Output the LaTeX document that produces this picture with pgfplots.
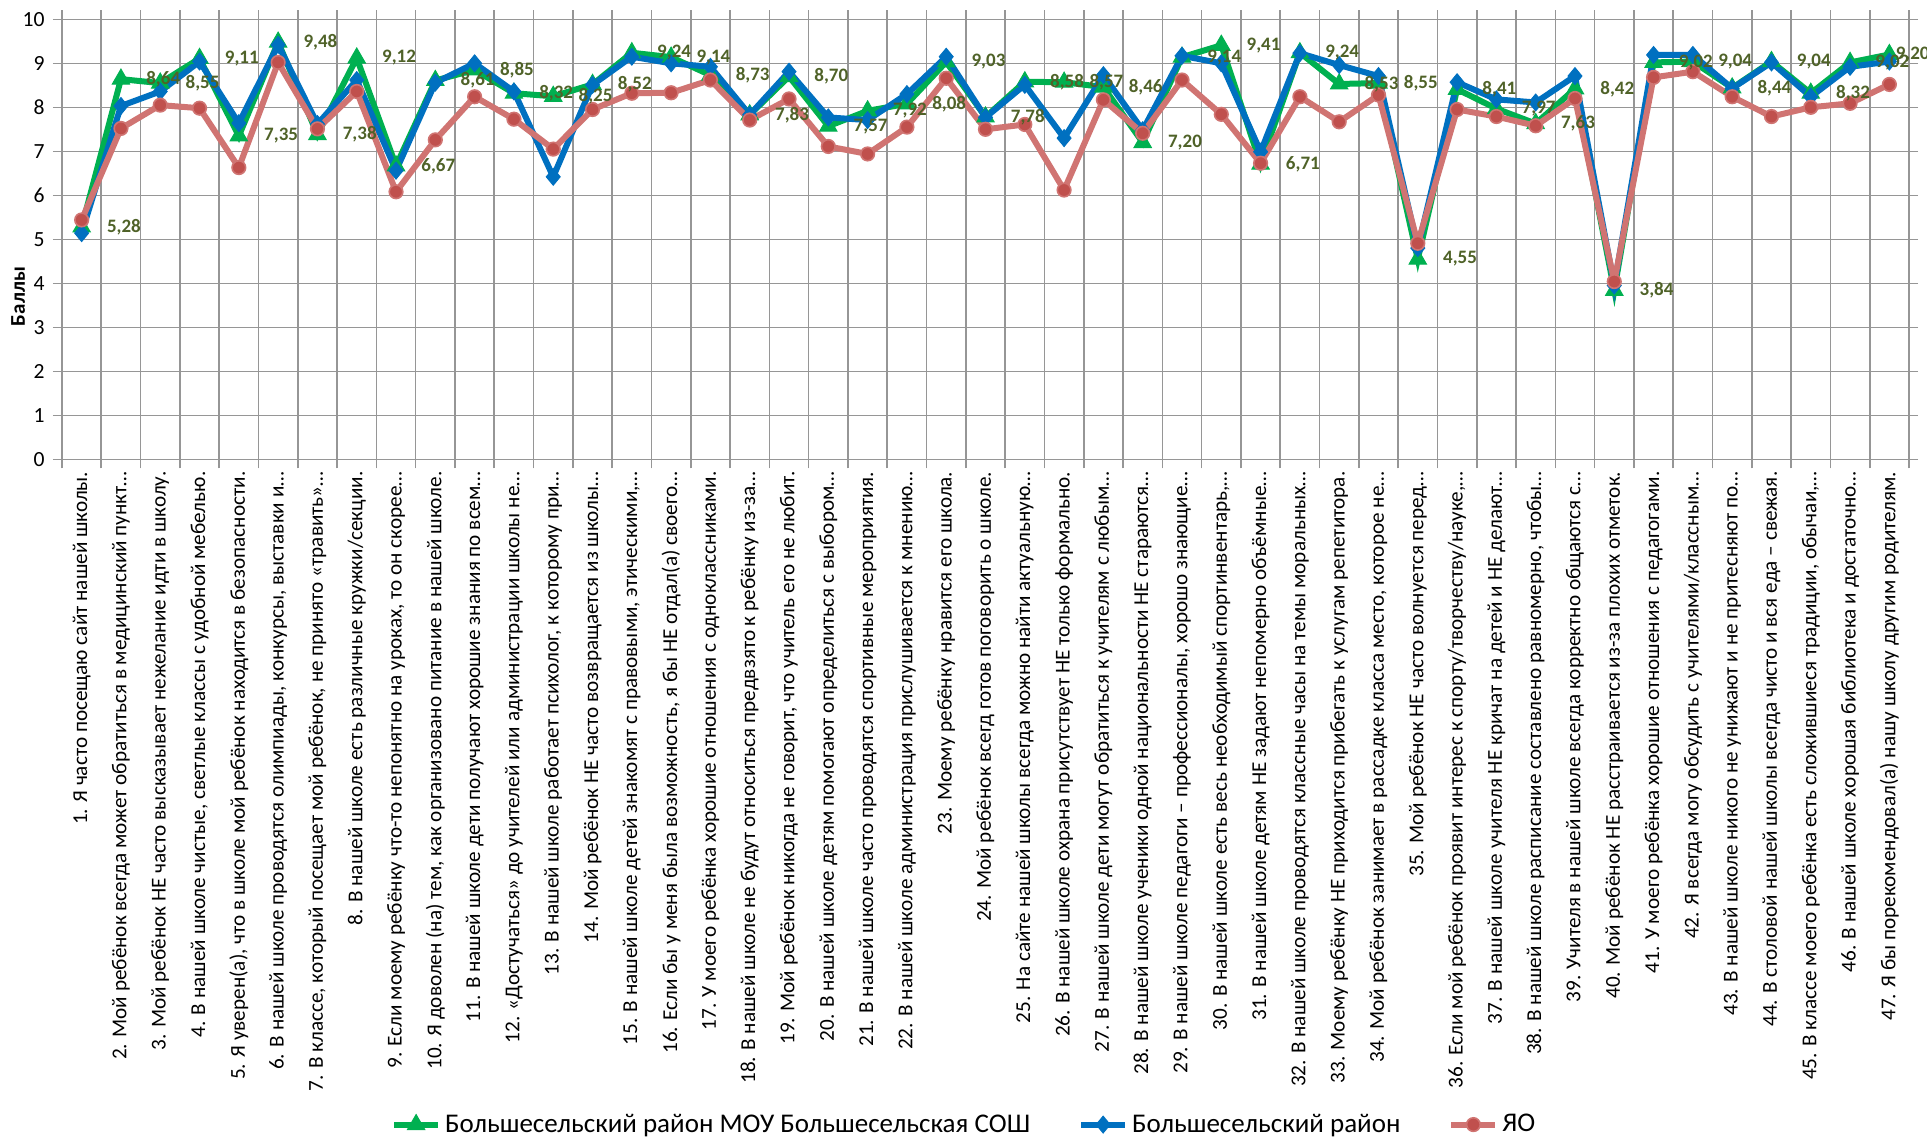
\documentclass[border=0pt]{standalone}
\usepackage{fontspec}
\setmainfont{Carlito}
\usepackage{pgfplots}
\pgfplotsset{compat=1.18}
\usepackage{pgfplotstable}
\definecolor{sgreen}{HTML}{00B050}
\definecolor{sblue}{HTML}{0070C0}
\definecolor{sredl}{HTML}{D07472}
\definecolor{sredm}{HTML}{C0504D}
\definecolor{labc}{HTML}{4F6228}
\definecolor{gridc}{HTML}{969696}

\pgfplotstableread{
x g b r lbl
1 5.28 5.14 5.44 5,28
2 8.64 8.03 7.52 8,64
3 8.55 8.36 8.05 8,55
4 9.11 9.04 7.98 9,11
5 7.35 7.64 6.63 7,35
6 9.48 9.42 9.02 9,48
7 7.38 7.62 7.51 7,38
8 9.12 8.62 8.36 9,12
9 6.67 6.56 6.08 6,67
10 8.61 8.56 7.26 8,61
11 8.85 9.00 8.24 8,85
12 8.32 8.36 7.73 8,32
13 8.25 6.42 7.05 8,25
14 8.52 8.51 7.95 8,52
15 9.24 9.15 8.32 9,24
16 9.14 9.00 8.33 9,14
17 8.73 8.92 8.62 8,73
18 7.83 7.83 7.71 7,83
19 8.70 8.81 8.19 8,70
20 7.57 7.77 7.11 7,57
21 7.92 7.71 6.94 7,92
22 8.08 8.30 7.55 8,08
23 9.03 9.15 8.66 9,03
24 7.78 7.77 7.50 7,78
25 8.58 8.51 7.61 8,58
26 8.57 7.30 6.12 8,57
27 8.46 8.73 8.17 8,46
28 7.20 7.48 7.41 7,20
29 9.14 9.17 8.62 9,14
30 9.41 9.00 7.84 9,41
31 6.71 6.99 6.73 6,71
32 9.24 9.23 8.24 9,24
33 8.53 8.96 7.67 8,53
34 8.55 8.71 8.28 8,55
35 4.55 4.80 4.91 4,55
36 8.41 8.57 7.95 8,41
37 7.97 8.18 7.79 7,97
38 7.63 8.11 7.58 7,63
39 8.42 8.71 8.20 8,42
40 3.84 3.95 4.04 3,84
41 9.02 9.19 8.68 9,02
42 9.04 9.19 8.81 9,04
43 8.44 8.43 8.24 8,44
44 9.04 9.02 7.79 9,04
45 8.32 8.24 8.00 8,32
46 9.02 8.92 8.09 9,02
47 9.20 9.04 8.52 9,20
}\data

\begin{document}
\begin{tikzpicture}
\begin{axis}[
  scale only axis, width=923.5bp, height=220bp,
  xmin=0.5, xmax=47.5, ymin=0, ymax=10,
  clip=false,
  /pgf/number format/assume math mode=true,
  xtick={0.5,1.5,...,47.5}, xticklabels={},
  ytick={0,1,...,10},
  xmajorgrids=true, ymajorgrids=true,
  grid style={draw=gridc, line width=0.8bp},
  axis line style={draw=gridc, line width=0.8bp},
  tick style={draw=gridc, line width=0.8bp},
  tick align=outside, major tick length=4.5bp,
  extra x ticks={1,2,...,47},
  extra x tick style={grid=none, major tick length=0pt},
  extra x tick labels={
{1. Я часто посещаю сайт нашей школы.},
{2. Мой ребёнок всегда может обратиться в медицинский пункт…},
{3. Мой ребёнок НЕ часто высказывает нежелание идти в школу.},
{4. В нашей школе чистые, светлые классы с удобной мебелью.},
{5. Я уверен(а), что в школе мой ребёнок находится в безопасности.},
{6. В нашей школе проводятся  олимпиады, конкурсы, выставки и…},
{7. В классе, который посещает мой ребёнок, не принято «травить»…},
{8. В нашей школе есть различные кружки/секции.},
{9. Если моему ребёнку что-то непонятно на уроках, то он скорее…},
{10. Я доволен (на) тем, как организовано питание в нашей школе.},
{11. В нашей школе  дети получают хорошие знания по всем…},
{12. «Достучаться» до учителей или администрации школы не…},
{13. В нашей школе работает психолог, к которому  при…},
{14. Мой ребёнок  НЕ часто возвращается из школы…},
{15. В нашей школе детей знакомят  с правовыми, этическими,…},
{16. Если бы у меня была возможность, я бы НЕ отдал(а) своего…},
{17. У  моего ребёнка хорошие отношения с одноклассниками.},
{18. В нашей школе не будут относиться предвзято к ребёнку из-за…},
{19. Мой ребёнок никогда не говорит, что учитель его не любит.},
{20. В нашей школе детям помогают определиться с выбором…},
{21. В нашей школе часто проводятся спортивные мероприятия.},
{22. В нашей школе администрация прислушивается к мнению…},
{23. Моему ребёнку нравится его школа.},
{24. Мой ребёнок всегд готов поговорить о школе.},
{25. На сайте нашей школы всегда можно найти актуальную…},
{26. В нашей школе охрана присутствует НЕ только формально.},
{27. В нашей школе дети могут обратиться к учителям с любым…},
{28. В нашей школе ученики одной национальности  НЕ стараются…},
{29. В нашей школе педагоги – профессионалы, хорошо знающие…},
{30. В нашей школе есть весь необходимый спортинвентарь,…},
{31. В нашей школе детям НЕ задают непомерно объёмные…},
{32. В нашей школе проводятся классные часы на темы моральных…},
{33. Моему ребёнку НЕ приходится прибегать к услугам репетитора.},
{34. Мой ребёнок занимает в рассадке класса место, которое не…},
{35. Мой ребёнок НЕ часто волнуется перед…},
{36. Если мой ребёнок проявит интерес к спорту/творчеству/науке,…},
{37. В нашей школе учителя НЕ кричат на детей и НЕ делают…},
{38. В нашей школе расписание составлено равномерно, чтобы…},
{39. Учителя в нашей школе всегда корректно общаются с…},
{40. Мой ребёнок НЕ расстраивается из-за плохих отметок.},
{41. У моего ребёнка хорошие отношения с педагогами.},
{42. Я всегда могу обсудить с учителями/классным…},
{43. В нашей школе никого не унижают и не притесняют по…},
{44. В столовой нашей школы всегда чисто и вся еда – свежая.},
{45. В классе моего ребёнка есть сложившиеся традиции, обычаи,…},
{46. В нашей школе хорошая библиотека и достаточно…},
{47. Я бы порекомендовал(а) нашу школу другим родителям.}},
  xticklabel style={rotate=90, anchor=east, inner sep=0pt, font=\fontsize{10.6bp}{12.5bp}\selectfont},
  xticklabel shift=6bp,
  yticklabel style={font=\fontsize{10.8bp}{12bp}\selectfont, inner sep=0pt},
  yticklabel shift=4bp,
  ylabel={Баллы},
  ylabel style={at={(axis description cs:-0.0238,0.37)}, anchor=center, font=\bfseries\fontsize{10.5bp}{12bp}\selectfont},
  legend style={at={(axis description cs:0.489,-1.512)}, anchor=center, draw=none, fill=none,
    font=\fontsize{13.5bp}{16bp}\selectfont, /tikz/every even column/.append style={column sep=22bp}},
  legend columns=3, legend cell align=left,
  legend image code/.code={\draw[mark repeat=2,mark phase=2,#1] plot coordinates {(0bp,0bp) (11bp,0bp) (22bp,0bp)};},
]
\addplot[sgreen, line width=3bp, mark=triangle*, mark size=5bp, mark options={fill=sgreen, draw=sgreen, line width=0.5bp}]
  table[x=x, y=g] {\data};
\addlegendentry{Большесельский район МОУ Большесельская СОШ}
\addplot[sblue, line width=3bp, mark=diamond*, mark size=4.2bp, mark options={fill=sblue, draw=sblue, line width=0.5bp, xscale=1.1}]
  table[x=x, y=b] {\data};
\addlegendentry{Большесельский район}
\addplot[sredl, line width=3bp, mark=*, mark size=3.4bp, mark options={fill=sredm, draw=sredl, line width=0.8bp}]
  table[x=x, y=r] {\data};
\addlegendentry{ЯО}
\addplot[draw=none, forget plot, point meta=explicit symbolic, nodes near coords,
  every node near coord/.append style={anchor=west, xshift=12.5bp, inner sep=0pt, text=labc, font=\bfseries\fontsize{9.5bp}{11bp}\selectfont}]
  table[x=x, y=g, meta=lbl, skip coords between index={46}{47}] {\data};
\addplot[draw=none, forget plot, point meta=explicit symbolic, nodes near coords,
  every node near coord/.append style={anchor=west, xshift=3bp, inner sep=0pt, text=labc, font=\bfseries\fontsize{9.5bp}{11bp}\selectfont}]
  table[x=x, y=g, meta=lbl, skip coords between index={0}{46}] {\data};
\end{axis}
\pgfresetboundingbox
\path[use as bounding box] ([shift={(-31bp,-339.35bp)}]current axis.south west) rectangle ([shift={(9bp,9.65bp)}]current axis.north east);
\end{tikzpicture}
\end{document}
